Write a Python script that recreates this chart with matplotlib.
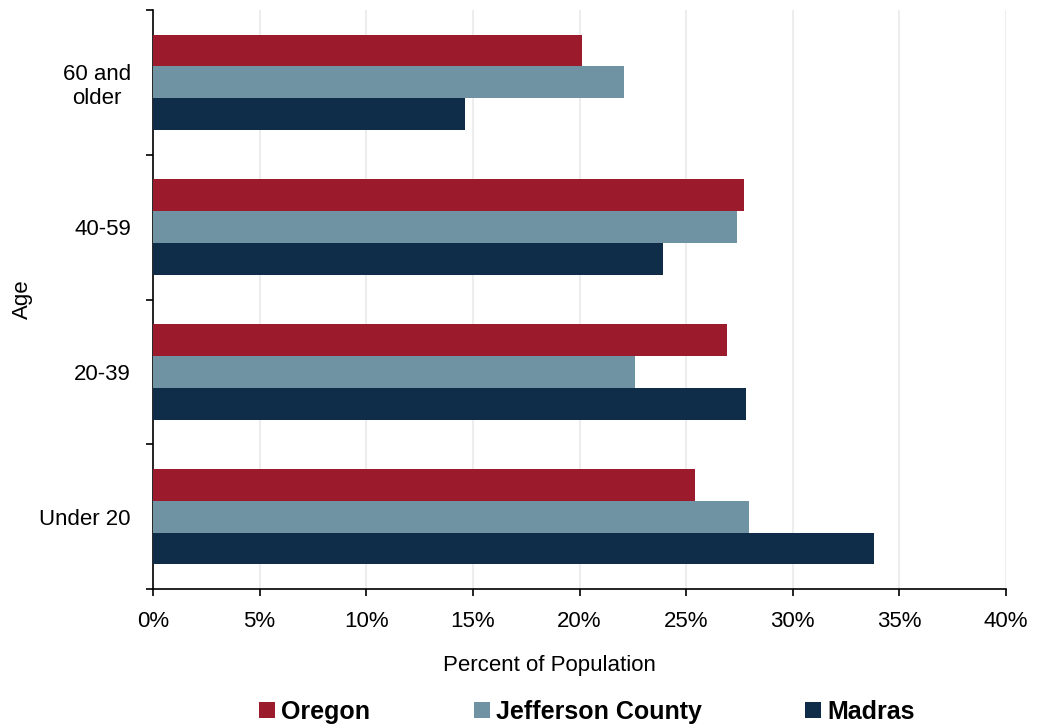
import matplotlib.pyplot as plt
import numpy as np
from matplotlib.patches import Patch

# Age distribution, share of population
ages = ["Under 20", "20-39", "40-59", "60 and\nolder"]
oregon = [25.4, 26.9, 27.7, 20.1]
jefferson = [27.95, 22.6, 27.37, 22.1]
madras = [33.8, 27.8, 23.9, 14.65]

series = ["Oregon", "Jefferson County", "Madras"]
colors = ["#9B1A2B", "#6F93A2", "#0F2D48"]

plt.rcParams['font.family'] = ['Liberation Sans', 'DejaVu Sans']

fig = plt.figure(figsize=(10.43, 7.27), dpi=100)
ax = fig.add_axes([153 / 1043, 1 - 589 / 727, (1006 - 153) / 1043, (589 - 10) / 727])

y = np.arange(len(ages))
h = 0.22
for off, vals, c in zip([h, 0, -h], [oregon, jefferson, madras], colors):
    ax.barh(y + off, vals, height=h, color=c, edgecolor='none', zorder=3)

ax.set_xlim(0, 40)
ax.set_ylim(-0.5, 3.5)
ax.set_xticks(np.arange(0, 41, 5))
ax.set_xticklabels([f"{v}%" for v in range(0, 41, 5)])
ax.xaxis.grid(True, color='#EDEDED', linewidth=1.5, zorder=0)

ax.set_yticks(y)
ax.set_yticklabels(ages, ha='right', multialignment='center')
ax.set_yticks(np.arange(-0.5, 4, 1), minor=True)
ax.tick_params(axis='y', which='major', length=0, pad=16, labelsize=16)
ax.tick_params(axis='y', which='minor', length=5, width=1.2)
ax.tick_params(axis='x', length=5, width=1.2, labelsize=16, pad=11)

for s in ['top', 'right']:
    ax.spines[s].set_visible(False)
for s in ['left', 'bottom']:
    ax.spines[s].set_linewidth(1.2)

fig.text(22 / 1043, 1 - 299 / 727, "Age", rotation=90, ha='center', va='center', fontsize=16)
fig.text(549 / 1043, 1 - 666 / 727, "Percent of Population", ha='center', va='center', fontsize=16)

handles = [Patch(facecolor=c, edgecolor='none') for c in colors]
fig.legend(handles, series, loc='center', bbox_to_anchor=(587 / 1043, 1 - 712 / 727),
           ncol=3, frameon=False, handlelength=0.64, handleheight=0.64,
           handletextpad=0.24, columnspacing=4.15, borderpad=0,
           prop={'weight': 'bold', 'size': 18})

fig.savefig("out.png", dpi=100)
